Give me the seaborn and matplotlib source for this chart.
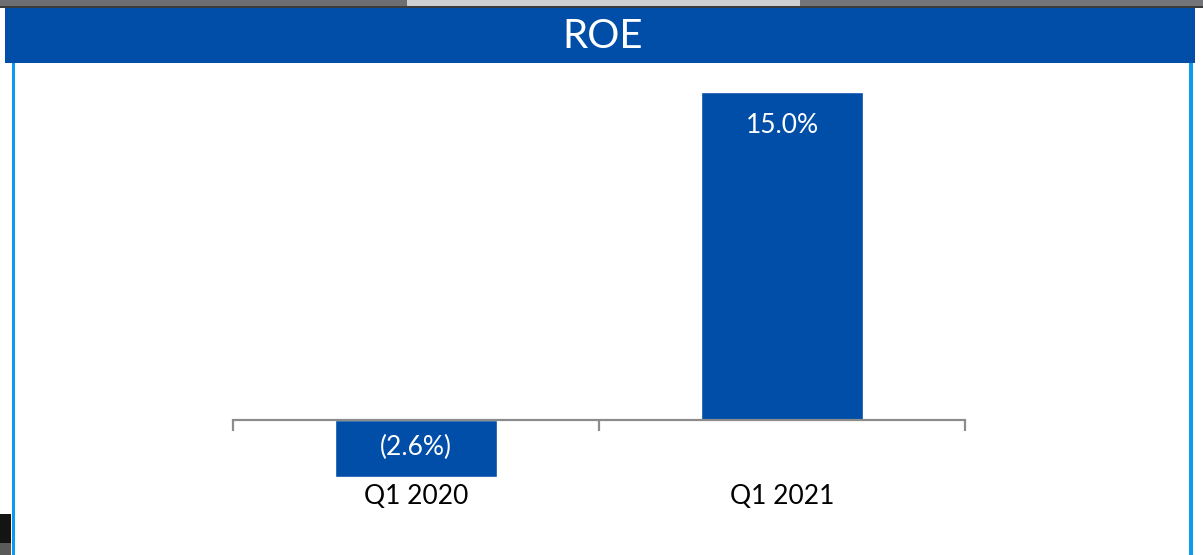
import numpy as np
import pandas as pd
import matplotlib
matplotlib.use("Agg")
import matplotlib.pyplot as plt
import seaborn as sns
from matplotlib.patches import Rectangle

# chart data
periods = ["Q1 2020", "Q1 2021"]
roe = [-2.6, 15.0]
labels = ["(2.6%)", "15.0%"]
title = "ROE"

BLUE = "#004ea8"
BORDER = "#0a9bf0"

sns.set_style("white")
plt.rcParams["font.family"] = ["Lato", "DejaVu Sans"]

W, H = 1203, 555
fig = plt.figure(figsize=(W / 100, H / 100), dpi=100)


def px_rect(x0, y0, x1, y1, color):
    # rectangle given in pixel coords (top-left origin)
    fig.patches.append(Rectangle((x0 / W, 1 - y1 / H), (x1 - x0) / W, (y1 - y0) / H,
                                 transform=fig.transFigure, color=color, zorder=0, lw=0))


# slide decoration
px_rect(0, 0, 407, 6, "#6d6e71")
px_rect(407, 0, 800, 6, "#cfd0d2")
px_rect(800, 0, 1203, 6, "#747578")
px_rect(0, 6, 1203, 8, "#3c3c3c")
px_rect(5, 8, 1195, 63, BLUE)
px_rect(12, 63, 15, 555, BORDER)
px_rect(1189, 63, 1193, 555, BORDER)
px_rect(0, 514, 11, 543, "#141414")
px_rect(0, 543, 11, 555, "#5a5a5a")
fig.text(603 / W, 1 - 37 / H, title, color="white", fontsize=29, ha="center", va="center")

# axes: x from 233 to 965 px, zero line at y=420 px, 21.87 px per unit
scale = 328 / 15.0
top_px, bot_px = 70, 525
ax = fig.add_axes([233 / W, 1 - bot_px / H, (965 - 233) / W, (bot_px - top_px) / H])

df = pd.DataFrame({"period": periods, "roe": roe})
sns.barplot(data=df, x="period", y="roe", color=BLUE, saturation=1, width=0.445, ax=ax)
ax.set_xlim(-0.5, 1.5)
ax.set_ylim(-(bot_px - 420) / scale, (420 - top_px) / scale)

for s in ["top", "right", "left"]:
    ax.spines[s].set_visible(False)
ax.spines["bottom"].set_position(("data", 0))
ax.spines["bottom"].set_color("#8c8c8c")
ax.spines["bottom"].set_linewidth(1.6)
ax.spines["bottom"].set_zorder(1)
ax.set_yticks([])
ax.set_xticks([])
ax.set_xticks([-0.5, 0.5, 1.5], minor=True)
ax.tick_params(axis="x", which="minor", bottom=True, length=8, width=1.6,
               color="#8c8c8c", direction="out")
ax.set_xlabel("")
ax.set_ylabel("")
ax.patch.set_alpha(0)

for i, (p, v, lab) in enumerate(zip(periods, roe, labels)):
    ax.text(i, -(497 - 420) / scale, p, ha="center", va="center", fontsize=19, color="black")
    if v >= 0:
        ax.text(i, v - (126 - 92) / scale, lab, ha="center", va="center", fontsize=19, color="white")
    else:
        ax.text(i, v / 2 + 0.05, lab, ha="center", va="center", fontsize=19, color="white")

fig.savefig("out.png", dpi=100)
